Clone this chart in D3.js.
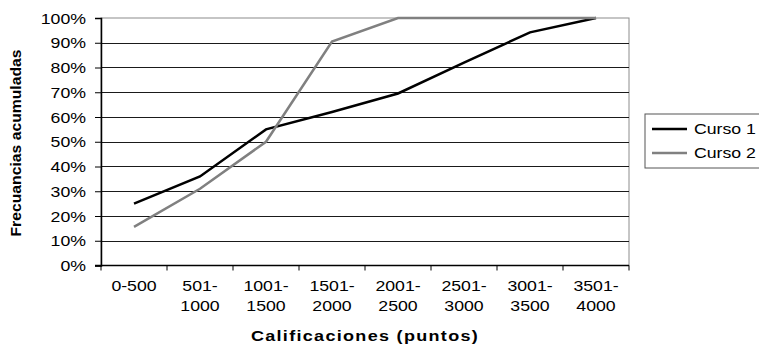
<!DOCTYPE html>
<html>
<head>
<meta charset="utf-8">
<script src="https://cdn.jsdelivr.net/npm/d3@7"></script>
<style>
  body { margin: 0; background: #fff; }
  text { font-family: "Liberation Sans", Arial, sans-serif; fill: #000; }
</style>
</head>
<body>
<svg width="759" height="347"></svg>
<script>
// Data
const categories = ["0-500", "501-1000", "1001-1500", "1501-2000", "2001-2500", "2501-3000", "3001-3500", "3501-4000"];
const curso1 = [0.25, 0.36, 0.55, 0.62, 0.695, 0.82, 0.942, 1.0];
const curso2 = [0.156, 0.31, 0.50, 0.905, 1.0, 1.0, 1.0, 1.0];
const yTicks = [0, 0.1, 0.2, 0.3, 0.4, 0.5, 0.6, 0.7, 0.8, 0.9, 1.0];
const seriesNames = ["Curso 1", "Curso 2"];
const seriesColors = ["#000000", "#808080"];

const svg = d3.select("svg");
const stretch = 1.18; // text in the reference is wide

const mLeft = 101, mRight = 629, mTop = 18, mBottom = 265.5;

const x = d3.scaleBand().domain(categories).range([mLeft, mRight]);
const y = d3.scaleLinear().domain([0, 1]).range([mBottom, mTop]);

// plot border
svg.append("rect")
  .attr("x", mLeft).attr("y", mTop)
  .attr("width", mRight - mLeft).attr("height", mBottom - mTop)
  .attr("fill", "#fff").attr("stroke", "#8c8c8c").attr("stroke-width", 1);

// gridlines
svg.append("g")
  .selectAll("line")
  .data(yTicks.filter(d => d > 0 && d < 1))
  .join("line")
  .attr("x1", mLeft).attr("x2", mRight)
  .attr("y1", d => Math.round(y(d)) + 0.5).attr("y2", d => Math.round(y(d)) + 0.5)
  .attr("stroke", "#1a1a1a").attr("stroke-width", 1);

// y axis
const yAxis = svg.append("g")
  .attr("transform", `translate(${mLeft},0)`)
  .call(d3.axisLeft(y).tickValues(yTicks).tickSize(6).tickFormat(d3.format(".0%")));
yAxis.select(".domain").attr("stroke", "#000").attr("stroke-width", 1.5);
yAxis.selectAll(".tick line").attr("stroke", "#000");
yAxis.selectAll(".tick text")
  .attr("x", null).attr("dy", null)
  .attr("transform", `translate(-15,5) scale(${stretch},1)`)
  .style("font-size", "15px").attr("text-anchor", "end").attr("fill", "#000");

// x axis (ticks at category boundaries)
const xg = svg.append("g");
xg.append("line")
  .attr("x1", mLeft - 6).attr("x2", mRight)
  .attr("y1", mBottom).attr("y2", mBottom)
  .attr("stroke", "#000").attr("stroke-width", 1.5);
const bounds = categories.map(c => x(c)).concat([x.range()[1]]);
xg.selectAll("line.tk")
  .data(bounds)
  .join("line")
  .attr("class", "tk")
  .attr("x1", d => d).attr("x2", d => d)
  .attr("y1", mBottom).attr("y2", mBottom + 5)
  .attr("stroke", "#000");

const xl = xg.selectAll("g.lab")
  .data(categories)
  .join("g")
  .attr("class", "lab")
  .attr("transform", d => `translate(${x(d) + x.bandwidth() / 2},0)`);
xl.each(function (d) {
  const parts = d !== "0-500" ? [d.split("-")[0] + "-", d.split("-")[1]] : [d];
  parts.forEach((p, i) => {
    d3.select(this).append("text")
      .attr("transform", `translate(0,${291 + i * 20}) scale(${stretch},1)`)
      .attr("text-anchor", "middle")
      .style("font-size", "15px")
      .text(p);
  });
});

// axis titles
svg.append("text")
  .attr("transform", `translate(${(mLeft + mRight) / 2},341) scale(1.2,1)`)
  .attr("text-anchor", "middle")
  .style("font-size", "15px").style("font-weight", "bold")
  .style("letter-spacing", "1.1px")
  .text("Calificaciones (puntos)");

svg.append("text")
  .attr("transform", `translate(21,143) rotate(-90) scale(1.05,1)`)
  .attr("text-anchor", "middle")
  .style("font-size", "15px").style("font-weight", "bold")
  .text("Frecuancias acumuladas");

// lines
const line = d3.line()
  .x((d, i) => x(categories[i]) + x.bandwidth() / 2)
  .y(d => y(d));

[curso1, curso2].forEach((s, k) => {
  svg.append("path")
    .datum(s)
    .attr("fill", "none")
    .attr("stroke", seriesColors[k])
    .attr("stroke-width", 2.5)
    .attr("stroke-linejoin", "miter")
    .attr("d", line);
});

// legend
const legend = svg.append("g").attr("transform", "translate(645,114)");
legend.append("rect")
  .attr("x", 0).attr("y", 0)
  .attr("width", 130).attr("height", 54)
  .attr("fill", "#fff").attr("stroke", "#555").attr("stroke-width", 1);
seriesNames.forEach((n, i) => {
  const ly = 15 + i * 24;
  legend.append("line")
    .attr("x1", 7).attr("x2", 42)
    .attr("y1", ly).attr("y2", ly)
    .attr("stroke", seriesColors[i]).attr("stroke-width", 2.5);
  legend.append("text")
    .attr("transform", `translate(49,${ly + 5}) scale(${stretch},1)`)
    .style("font-size", "15px")
    .text(n);
});
</script>
</body>
</html>
